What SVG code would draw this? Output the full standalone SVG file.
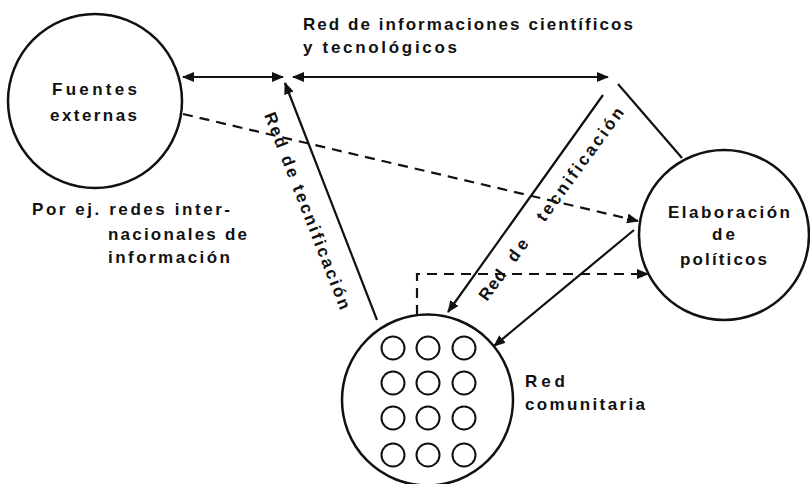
<svg xmlns="http://www.w3.org/2000/svg" width="810" height="484" viewBox="0 0 810 484">
<style>
text{font-family:"Liberation Sans",Arial,sans-serif;font-size:17px;font-weight:bold;fill:#111}
.node{fill:none;stroke:#111;stroke-width:2.5}
.small{fill:none;stroke:#111;stroke-width:2}
.ln{fill:none;stroke:#111;stroke-width:2.2}
.dash{fill:none;stroke:#111;stroke-width:2.2;stroke-dasharray:10 7}
</style>
<defs>
<marker id="ah" markerUnits="userSpaceOnUse" markerWidth="12" markerHeight="10" refX="11" refY="5" orient="auto-start-reverse">
<path d="M0,0 L12,5 L0,10 z" fill="#111"/>
</marker>
</defs>
<rect width="810" height="484" fill="#fff"/>
<g id="connectors">
<line class="ln" x1="183" y1="77" x2="283" y2="77" marker-start="url(#ah)" marker-end="url(#ah)" stroke-width="2.6"/>
<line class="ln" x1="293" y1="77" x2="608" y2="77" marker-start="url(#ah)" marker-end="url(#ah)" stroke-width="2.6"/>
<line class="ln" x1="377" y1="320" x2="285" y2="83" marker-end="url(#ah)"/>
<line class="ln" x1="603" y1="95" x2="448" y2="312" marker-end="url(#ah)"/>
<line class="ln" x1="618" y1="84" x2="682" y2="158"/>
<line class="ln" x1="634" y1="230" x2="494" y2="346" marker-end="url(#ah)"/>
<line class="dash" x1="183" y1="114" x2="638" y2="221" marker-end="url(#ah)"/>
<path class="dash" d="M417,315 V274 H648" marker-end="url(#ah)"/>
<text transform="translate(264,115) rotate(68.7)" textLength="210" lengthAdjust="spacing">Red de tecnificación</text>
<g transform="translate(487,302) rotate(-54)">
<text x="0" y="0" textLength="34" lengthAdjust="spacing">Red</text>
<text x="48" y="0" textLength="24" lengthAdjust="spacing">de</text>
<text x="98" y="0" textLength="136" lengthAdjust="spacing">tecnificación</text>
</g>
<text x="303" y="30" textLength="330" lengthAdjust="spacing">Red de informaciones científicos</text>
<text x="303" y="53" textLength="154" lengthAdjust="spacing">y tecnológicos</text>
</g>
<g id="fuentes">
<circle class="node" cx="95" cy="101" r="87"/>
<text x="52" y="95" textLength="85" lengthAdjust="spacing">Fuentes</text>
<text x="50" y="121" textLength="87" lengthAdjust="spacing">externas</text>
<text x="32" y="215" textLength="198" lengthAdjust="spacing">Por ej. redes inter-</text>
<text x="108" y="240" textLength="139" lengthAdjust="spacing">nacionales de</text>
<text x="108" y="263" textLength="122" lengthAdjust="spacing">información</text>
</g>
<g id="elaboracion">
<circle class="node" cx="724" cy="235" r="85"/>
<text x="668" y="218" textLength="122" lengthAdjust="spacing">Elaboración</text>
<text x="712" y="240" textLength="23" lengthAdjust="spacing">de</text>
<text x="680" y="265" textLength="87" lengthAdjust="spacing">políticos</text>
</g>
<g id="comunitaria">
<circle class="node" cx="427.5" cy="400" r="85.5"/>
<circle class="small" cx="393" cy="348" r="11.5"/>
<circle class="small" cx="428" cy="348" r="11.5"/>
<circle class="small" cx="464" cy="348" r="11.5"/>
<circle class="small" cx="393" cy="383" r="11.5"/>
<circle class="small" cx="428" cy="383" r="11.5"/>
<circle class="small" cx="464" cy="383" r="11.5"/>
<circle class="small" cx="393" cy="418" r="11.5"/>
<circle class="small" cx="428" cy="418" r="11.5"/>
<circle class="small" cx="464" cy="418" r="11.5"/>
<circle class="small" cx="393" cy="455" r="11.5"/>
<circle class="small" cx="428" cy="455" r="11.5"/>
<circle class="small" cx="464" cy="455" r="11.5"/>
<text x="525" y="387" textLength="40" lengthAdjust="spacing">Red</text>
<text x="525" y="410" textLength="120" lengthAdjust="spacing">comunitaria</text>
</g>
</svg>
